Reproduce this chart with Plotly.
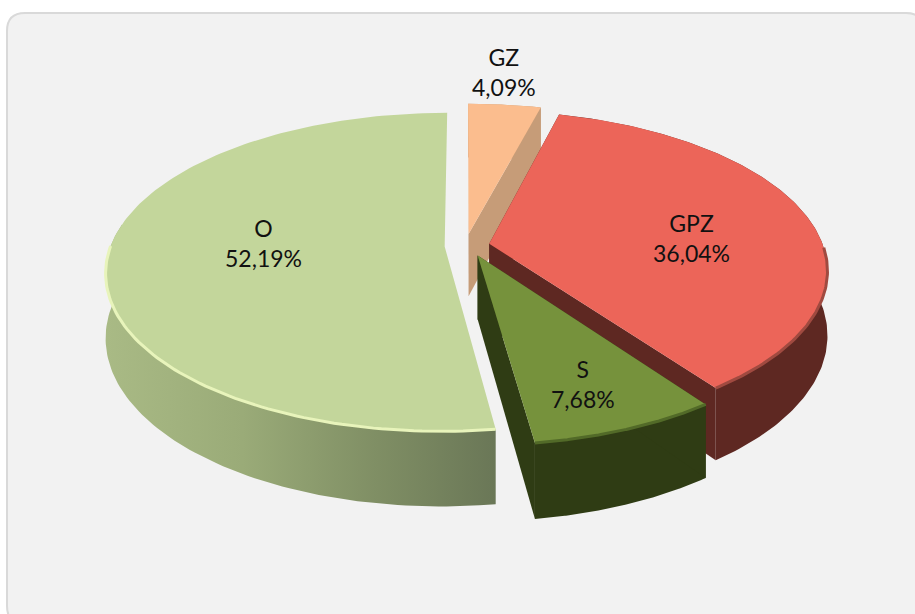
import numpy as np
import plotly.graph_objects as go

# ---- data
categories = ["GZ", "GPZ", "S", "O"]
shares = [4.09, 36.04, 7.68, 52.19]

# ---- styles
top_colors = ["#fbbd8e", "#ec6559", "#76923c", "#c3d69b"]
wall_colors = ["#c69c78", "#5e2822", "#2f3c14", "#8b9a6c"]
rim_colors = ["#fbbd8e", "#a04a40", "#526a28", "#e8f4bb"]
pulls = [0.085, 0.08, 0.085, 0.055]
nudge_x = [2, 0, 4, 0]
nudge_y = [1, 0, -3, 0]
label_xy = [(504, 72), (691, 238), (583, 384), (263, 243)]

# ---- projection of the tilted disc onto the axes
CX, CY = 463.0, 246.0
RX, RY, PERSP = 334.0, 155.0, 0.16
DEPTH = 75.0


def project(u, v, drop=False):
    den = 1 + PERSP * v
    x = CX + RX * u / den
    y = CY - RY * v / den
    if drop:
        y = y + DEPTH * (1 - PERSP) / den
    return x, y


def slice_geometry(start, end, pull):
    mid = np.radians((start + end) / 2)
    ou, ov = pull * np.sin(mid), pull * np.cos(mid)
    th = np.radians(np.linspace(start, end, 160))
    return ou, ov, ou + np.sin(th), ov + np.cos(th), th


fig = go.Figure()


def poly(xs, ys, color=None, gradient=None):
    kw = dict(fillgradient=gradient) if gradient else dict(fillcolor=color)
    fig.add_trace(go.Scatter(x=np.append(xs, xs[0]), y=np.append(ys, ys[0]), mode="lines",
                             line=dict(width=0), fill="toself", hoverinfo="skip", showlegend=False, **kw))


bounds = np.concatenate([[0], np.cumsum(shares) / np.sum(shares) * 360])
geoms = [slice_geometry(bounds[i], bounds[i + 1], pulls[i]) for i in range(4)]
o_gradient = dict(type="horizontal", colorscale=[[0, "#a9ba85"], [0.35, "#9aab78"], [0.7, "#7f8e64"], [1, "#6a7757"]])

for i in range(4):
    ou, ov, au, av, th = geoms[i]
    is_o = categories[i] == "O"
    nx, ny = nudge_x[i], nudge_y[i]
    # outer wall
    tx, ty = project(au, av)
    bx, by = project(au, av, drop=True)
    tx, bx, ty, by = tx + nx, bx + nx, ty + ny, by + ny
    if not is_o:
        poly(np.concatenate([tx, bx[::-1]]), np.concatenate([ty, by[::-1]]), wall_colors[i])
    else:
        keep = av < 0.15
        poly(np.concatenate([tx[keep], bx[keep][::-1]]), np.concatenate([ty[keep], by[keep][::-1]]), gradient=o_gradient)
    # radial faces
    px, py = project(np.array([ou]), np.array([ov]))
    pbx, pby = project(np.array([ou]), np.array([ov]), drop=True)
    px, pbx, py, pby = px + nx, pbx + nx, py + ny, pby + ny
    if not is_o:
        for k in (0, -1):
            poly(np.array([px[0], tx[k], bx[k], pbx[0]]), np.array([py[0], ty[k], by[k], pby[0]]), wall_colors[i])
    # top
    poly(np.concatenate([px, tx]), np.concatenate([py, ty]), top_colors[i])
    # bevel on the front rim
    front = av < 0.0
    if front.any() and categories[i] != "GZ":
        fig.add_trace(go.Scatter(x=tx[front], y=ty[front], mode="lines", line=dict(color=rim_colors[i], width=3),
                                 hoverinfo="skip", showlegend=False))

annotations = [
    dict(x=xy[0], y=xy[1], text=f"{c}<br>{str(s).replace('.', ',')}%", showarrow=False, xref="x", yref="y",
         font=dict(family="Lato, 'Open Sans', sans-serif", size=23, color="#111111"), align="center")
    for c, s, xy in zip(categories, shares, label_xy)
]

panel = "M 7 31 Q 7 13 25 13 L 906 13 Q 924 13 924 31 L 924 606 Q 924 624 906 624 L 25 624 Q 7 624 7 606 Z"

fig.update_layout(
    width=915, height=614, margin=dict(l=0, r=0, t=0, b=0),
    paper_bgcolor="#ffffff", plot_bgcolor="#ffffff", showlegend=False,
    xaxis=dict(range=[0, 915], visible=False, fixedrange=True),
    yaxis=dict(range=[614, 0], visible=False, fixedrange=True),
    shapes=[dict(type="path", path=panel, xref="x", yref="y", layer="below",
                 fillcolor="#f2f2f2", line=dict(color="#d9d9d9", width=2))],
    annotations=annotations,
)
fig.write_html("out.html", config={"displayModeBar": False},
               post_script="document.body.style.margin='0';document.body.style.overflow='hidden';")
